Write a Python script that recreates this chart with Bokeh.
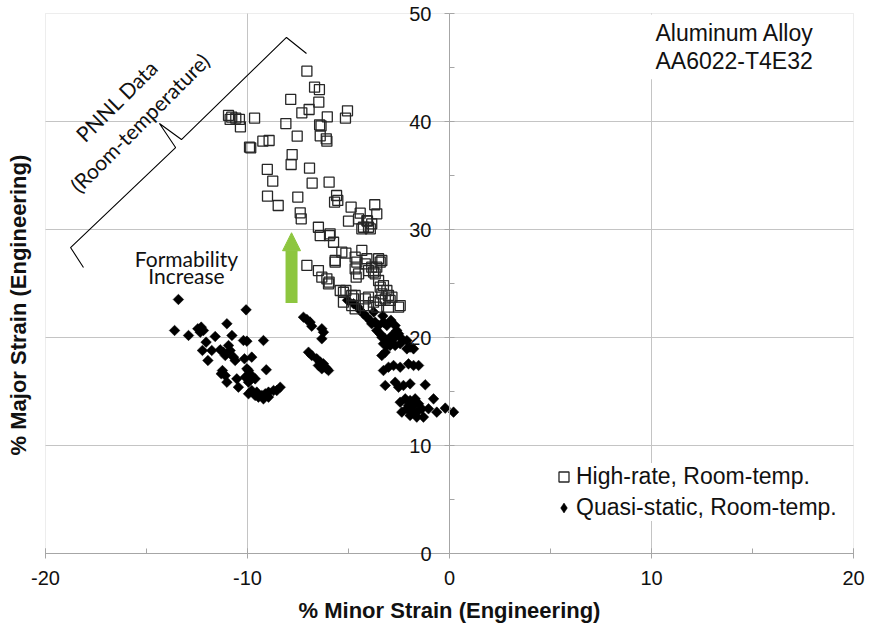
from bokeh.plotting import figure
from bokeh.models import (LinearAxis, SingleIntervalTicker, FixedTicker, Range1d, PrintfTickFormatter,
                          Grid, BoxAnnotation, Label, Legend, LegendItem, Arrow, NormalHead,
                          ColumnDataSource)
from bokeh.embed import file_html
from bokeh.resources import INLINE

# High-rate forming tests, room temperature (minor strain %, major strain %)
hr_minor = [-7.06, -6.68, -6.44, -7.86, -6.47, -6.95, -7.31, -5.05, -5.15, -6.05,
            -10.94, -10.78, -10.58, -10.86, -10.40, -10.35, -9.65, -8.10, -6.43, -6.36,
            -7.54, -6.40, -6.10, -6.07, -9.90, -9.84, -9.24, -8.93, -7.79, -7.84,
            -9.02, -6.93, -8.75, -6.80, -5.96, -9.01, -8.48, -7.51, -7.39, -7.34,
            -5.59, -5.53, -5.69, -4.87, -3.70, -3.60, -4.42, -5.00, -4.06, -3.85,
            -6.49, -4.50, -4.09, -4.34, -4.01, -3.92, -4.26, -6.40, -5.94, -5.74,
            -5.91, -7.06, -6.49, -6.07, -5.96, -5.66, -5.13, -5.33, -5.66, -4.67,
            -4.59, -4.67, -4.50, -4.62, -4.34, -4.09, -4.17, -4.01, -3.76, -3.51,
            -3.43, -3.60, -3.68, -3.51, -3.85, -3.35, -3.43, -3.27, -3.10, -3.35,
            -3.02, -2.85, -5.41, -5.13, -4.67, -4.75, -6.32, -5.99, -5.25, -5.25,
            -4.84, -4.17, -4.01, -3.76, -3.43, -3.18, -2.94, -4.01, -3.60, -3.02,
            -2.44, -2.52, -4.26, -4.84, -4.67]
hr_major = [44.66, 43.18, 42.96, 42.04, 41.79, 41.11, 40.80, 40.99, 40.31, 40.43,
            40.56, 40.40, 40.31, 40.19, 40.19, 39.51, 40.31, 39.81, 39.69, 39.60,
            38.64, 38.67, 38.40, 38.18, 37.62, 37.56, 38.18, 38.24, 36.94, 36.02,
            35.56, 35.68, 34.47, 34.29, 34.38, 33.09, 32.22, 33.00, 31.54, 30.99,
            33.15, 32.69, 32.53, 32.07, 32.29, 31.45, 31.51, 30.77, 30.77, 30.53,
            30.21, 30.99, 30.83, 30.06, 30.21, 30.06, 30.21, 29.44, 29.44, 28.82,
            29.60, 26.67, 26.20, 25.43, 25.12, 27.13, 27.81, 27.90, 26.97, 27.44,
            26.97, 26.36, 25.90, 25.59, 28.06, 27.29, 26.82, 26.20, 26.05, 27.29,
            26.97, 26.51, 25.90, 25.28, 26.51, 27.13, 24.66, 24.81, 24.35, 24.04,
            23.89, 23.73, 24.35, 24.35, 23.89, 23.58, 25.59, 24.97, 24.19, 23.27,
            23.89, 23.58, 23.73, 23.27, 23.43, 23.58, 23.43, 22.96, 22.81, 22.81,
            22.96, 22.81, 22.96, 22.96, 22.65]

# Quasi-static tests, room temperature (minor strain %, major strain %)
qs_minor = [-13.42, -10.07, -13.61, -12.92, -12.46, -12.29, -12.18, -12.34, -11.02, -11.60,
            -10.77, -12.05, -10.20, -10.03, -9.21, -12.23, -11.77, -11.35, -11.19, -10.94,
            -10.86, -11.10, -11.96, -10.69, -10.61, -10.15, -9.79, -11.24, -11.30, -11.10,
            -10.03, -9.95, -9.07, -10.53, -10.11, -9.79, -9.62, -9.95, -11.02, -10.45,
            -9.95, -9.79, -9.54, -9.29, -9.12, -8.96, -8.71, -8.38, -8.55, -9.46,
            -9.21, -9.62, -8.96,
            -7.23, -7.06, -6.90, -6.82, -6.32, -6.24, -6.32, -6.98, -6.82, -6.57,
            -6.40, -6.24, -6.15, -6.07, -6.32, -6.49, -5.99,
            -4.75, -4.42, -4.26, -4.09, -3.93, -3.85, -3.68, -3.51, -3.27, -3.10,
            -2.69, -2.61, -3.60, -3.43, -3.35, -3.18, -3.02, -2.85, -2.77, -2.52,
            -2.36, -2.11, -3.27, -3.10, -2.94, -2.69, -2.44, -1.78, -3.35, -3.18,
            -2.11, -1.95, -3.27, -3.02, -2.77, -2.44, -2.03, -1.78, -1.53, -3.18,
            -2.69, -2.52, -2.28, -1.95, -1.20, -2.44, -2.19, -1.95, -1.70, -1.53,
            -2.36, -2.11, -1.86, -1.62, -1.37, -1.95, -1.62, -1.29, -1.04, -0.79,
            -0.63, -0.21, 0.20, -2.03, -1.78, -5.05, -4.55, -3.75, -3.30, -2.90]
qs_major = [23.52, 22.56, 20.65, 20.19, 20.81, 20.96, 20.65, 20.49, 21.27, 20.09,
            20.19, 19.57, 19.72, 19.66, 19.72, 18.80, 18.80, 18.86, 18.64, 19.26,
            18.80, 18.33, 17.87, 18.18, 17.87, 18.03, 18.18, 16.94, 16.64, 16.48,
            17.10, 16.94, 17.01, 16.17, 16.33, 16.48, 16.17, 15.86, 15.86, 15.40,
            14.79, 15.09, 14.94, 14.63, 14.79, 14.94, 15.09, 15.40, 15.09, 14.48,
            14.32, 14.63, 14.48,
            21.88, 21.67, 21.42, 21.05, 20.81, 20.49, 19.88, 18.64, 18.33, 18.03,
            17.72, 17.56, 17.25, 17.10, 17.10, 17.41, 16.94,
            23.12, 22.50, 22.19, 21.88, 21.57, 21.27, 21.42, 21.11, 21.42, 21.11,
            21.11, 20.65, 20.65, 20.34, 20.03, 19.88, 19.72, 20.19, 19.88, 20.34,
            19.88, 19.72, 19.42, 19.26, 19.26, 19.26, 19.42, 18.95, 18.33, 18.64,
            18.95, 19.10, 16.94, 17.25, 17.41, 17.25, 17.56, 17.41, 17.41, 15.56,
            15.86, 15.40, 15.56, 15.71, 15.62, 14.01, 14.32, 14.17, 14.32, 13.86,
            13.09, 13.40, 13.24, 13.09, 13.40, 12.78, 12.63, 12.63, 13.40, 14.32,
            13.09, 13.46, 13.09, 13.71, 13.71, 23.45, 22.85, 22.35, 22.00, 21.60]

series_labels = ["High-rate, Room-temp.", "Quasi-static, Room-temp."]
x_grid_ticks = [-10, 0, 10]
y_grid_ticks = [10, 20, 30, 40]

# Curly brace marking the PNNL room-temperature data (data units)
brace_x = [-18.12, -18.76, -13.56, -14.36, -13.27, -8.07, -7.08]
brace_y = [26.48, 28.33, 37.59, 39.81, 38.33, 47.78, 46.30]

# axis limits of the chart box and where that box sits on the page
X_MIN, X_MAX, Y_MIN, Y_MAX = -20, 20, 0, 50
W, H = 870, 633
BOX_L, BOX_R, BOX_T, BOX_B = 45, 853, 13, 553
sx = (BOX_R - BOX_L) / (X_MAX - X_MIN)
sy = (BOX_B - BOX_T) / (Y_MAX - Y_MIN)
x_range = Range1d(X_MIN - BOX_L / sx, X_MAX + (W - BOX_R) / sx)
y_range = Range1d(Y_MIN - (H - BOX_B) / sy, Y_MAX + BOX_T / sy)

GRID = "#C4C4C4"
AXIS = "#A6A6A6"
GREEN = "#8DC63F"
TEXT = "#111111"
TICK_FONT = "Liberation Sans"
TITLE_FONT = "Liberation Sans Narrow, Arial Narrow, Liberation Sans"

# the frame fills the page; axes are placed at fixed data locations inside it
p = figure(width=W, height=H, x_range=x_range, y_range=y_range,
           x_axis_location=None, y_axis_location=None,
           output_backend="svg", toolbar_location=None, min_border=0)
p.background_fill_color = "white"
p.border_fill_color = "white"
p.outline_line_color = None
# drop the full-frame default grids; bounded ones are added below
for g in list(p.grid):
    g.visible = False

p.add_layout(Grid(dimension=0, ticker=FixedTicker(ticks=x_grid_ticks),
                  cross_bounds=(Y_MIN, Y_MAX), grid_line_color=GRID))
p.add_layout(Grid(dimension=1, ticker=FixedTicker(ticks=y_grid_ticks),
                  cross_bounds=(X_MIN, X_MAX), grid_line_color=GRID))
p.add_layout(BoxAnnotation(left=X_MIN, right=X_MAX, bottom=Y_MIN, top=Y_MAX,
                           fill_color=None, line_color=GRID, line_width=1, level="underlay"))

xa = LinearAxis(fixed_location=Y_MIN, bounds=(X_MIN, X_MAX),
                ticker=SingleIntervalTicker(interval=10, num_minor_ticks=2),
                formatter=PrintfTickFormatter(format="%d"),
                axis_line_color=AXIS, major_tick_line_color=AXIS, minor_tick_line_color=AXIS,
                major_tick_in=5, major_tick_out=5, minor_tick_in=5, minor_tick_out=0,
                major_label_standoff=12, major_label_text_font=TICK_FONT,
                major_label_text_font_size="20px", major_label_text_color=TEXT,
                axis_label="% Minor Strain (Engineering)", axis_label_text_font=TITLE_FONT,
                axis_label_text_font_style="bold", axis_label_text_font_size="22px",
                axis_label_text_color=TEXT, axis_label_standoff=10)
p.add_layout(xa, "below")

ya = LinearAxis(fixed_location=0, bounds=(Y_MIN, Y_MAX),
                ticker=SingleIntervalTicker(interval=10, num_minor_ticks=2),
                formatter=PrintfTickFormatter(format="%d"),
                axis_line_color=AXIS, major_tick_line_color=AXIS, minor_tick_line_color=AXIS,
                major_tick_in=0, major_tick_out=5, minor_tick_in=5, minor_tick_out=0,
                major_label_standoff=13, major_label_text_font=TICK_FONT,
                major_label_text_font_size="20px", major_label_text_color=TEXT)
p.add_layout(ya, "left")

p.add_layout(Label(x=X_MIN - 27 / sx, y=(Y_MIN + Y_MAX) / 2 - 2, text="% Major Strain (Engineering)",
                   angle=90, angle_units="deg", text_align="center", text_baseline="middle",
                   text_font=TITLE_FONT, text_font_style="bold", text_font_size="22px",
                   text_color=TEXT))

src_hr = ColumnDataSource(dict(x=hr_minor, y=hr_major))
src_qs = ColumnDataSource(dict(x=qs_minor, y=qs_major))

r_qs = p.scatter("x", "y", source=src_qs, marker="square", size=7.5, angle=0.785398,
                 fill_color="black", line_color="black", line_width=0.5)
r_hr = p.scatter("x", "y", source=src_hr, marker="square", size=10,
                 fill_color=None, line_color="#262626", line_width=1.3)
# legend keys are drawn unrotated, so the quasi-static key uses a hidden diamond renderer
r_qs_key = p.scatter("x", "y", source=src_qs, marker="diamond", size=10,
                     fill_color="black", line_color="black", line_width=0.5, visible=False)

# brace and annotations
p.line(brace_x, brace_y, line_color="black", line_width=1.1)

p.add_layout(Label(x=-16.49, y=41.94, text="PNNL Data", angle=45, angle_units="deg",
                   text_align="center", text_baseline="middle", text_font="Lato",
                   text_font_size="21px", text_color=TEXT))
p.add_layout(Label(x=-15.35, y=39.91, text="(Room-temperature)", angle=45, angle_units="deg",
                   text_align="center", text_baseline="middle", text_font="Lato",
                   text_font_size="21px", text_color=TEXT))
p.add_layout(Label(x=-13.02, y=27.31, text="Formability", text_align="center",
                   text_baseline="middle", text_font="Lato", text_font_size="21px",
                   text_color=TEXT))
p.add_layout(Label(x=-13.02, y=25.74, text="Increase", text_align="center",
                   text_baseline="middle", text_font="Lato", text_font_size="21px",
                   text_color=TEXT))

p.add_layout(Arrow(end=NormalHead(size=18, fill_color=GREEN, line_color=GREEN),
                   x_start=-7.82, y_start=23.2, x_end=-7.82, y_end=29.7,
                   line_color=GREEN, line_width=12))

p.add_layout(Label(x=9.95, y=49.9, text="Aluminum Alloy\nAA6022-T4E32",
                   text_align="left", text_baseline="top", text_font=TICK_FONT,
                   text_font_size="23px", text_color=TEXT, text_line_height=1.1,
                   background_fill_color="white", padding=5))

legend = Legend(items=[LegendItem(label=series_labels[0], renderers=[r_hr]),
                       LegendItem(label=series_labels[1], renderers=[r_qs_key])],
                location=(BOX_L + 506, H - BOX_B + 32),
                background_fill_color="white", background_fill_alpha=1,
                border_line_color=None, label_text_font=TICK_FONT,
                label_text_font_size="23px", label_text_color=TEXT,
                glyph_width=25, glyph_height=25, label_height=25, label_standoff=-3,
                spacing=4, padding=4, margin=0)
p.add_layout(legend)

open("out.html", "w").write(file_html(p, INLINE))
